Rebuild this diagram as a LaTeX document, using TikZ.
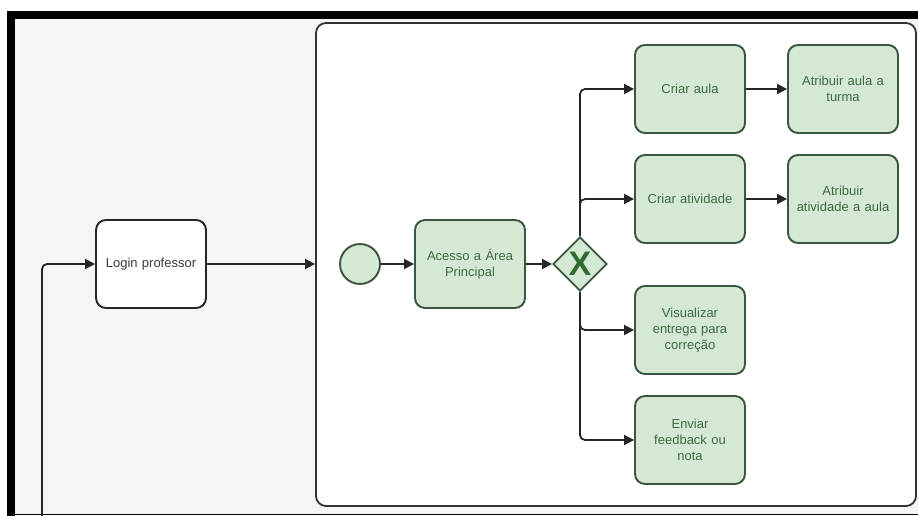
\documentclass[tikz,border=0pt]{standalone}
\usepackage{fontspec}
\setmainfont{Liberation Sans}
\usetikzlibrary{arrows.meta,shapes.geometric}
\definecolor{bggray}{HTML}{F5F5F5}
\definecolor{gfill}{HTML}{D5E8D4}
\definecolor{gline}{HTML}{3A5540}
\definecolor{gtext}{HTML}{3F6A42}
\definecolor{gmark}{HTML}{2F6B2F}
\definecolor{ltext}{HTML}{3A3A3A}
\begin{document}
\begin{tikzpicture}[x=1pt,y=1pt]
\tikzstyle{every node}+=[inner sep=0pt, font=\fontsize{13}{16}\selectfont]
\tikzstyle{task}=[draw=black!85, line width=1.9pt, rounded corners=10pt, minimum width=110pt, minimum height=88pt, text width=104pt, align=center]
\tikzstyle{gtask}=[task, fill=gfill, draw=gline, text=gtext]
\tikzstyle{flow}=[black!85, line width=1.8pt, rounded corners=5pt, -{Triangle[length=10pt,width=10pt]}]
\useasboundingbox (0,0) rectangle (918,-516);
\fill [white] (0,0) rectangle (918,-516);
\fill [bggray] (11,-15) rectangle (918,-514);
\draw [black, line width=8pt] (11,-516) -- (11,-15) -- (918,-15);
\draw [black, line width=1pt] (11,-514) -- (918,-514);
% pool
\node [draw=black!80, fill=white, line width=1.8pt, rounded corners=10pt, minimum width=600pt, minimum height=483pt] (pool) at (616,-264.5) {};
\node [task, fill=white, text=ltext] (lp) at (151,-264) {Login professor};
\node [circle, fill=gfill, draw=gline, line width=1.9pt, minimum size=40pt] (st) at (360,-264) {};
\node [gtask] (ac) at (470,-264) {Acesso a Área\\Principal};
\node [diamond, fill=gfill, draw=gline, line width=1.9pt, minimum width=54pt, minimum height=54pt] (gw) at (580,-264) {};
\node [text=gmark, font=\fontsize{34}{34}\selectfont\bfseries] (gwx) at (gw) {X};
\node [gtask] (ca) at (690,-89) {Criar aula};
\node [gtask] (aa) at (843,-89) {Atribuir aula a\\turma};
\node [gtask] (cv) at (690,-199) {Criar atividade};
\node [gtask] (av) at (843,-199) {Atribuir\\atividade a aula};
\node [gtask] (ve) at (690,-330) {Visualizar\\entrega para\\correção};
\node [gtask] (ef) at (690,-440) {Enviar\\feedback ou\\nota};
\coordinate (lb) at (42,-516);
% flows
\draw [flow] (lb) |- (lp);
\draw [flow] (lp) -- (pool.west |- lp);
\draw [flow] (st) -- (ac);
\draw [flow] (ac) -- (gw);
\draw [flow] (gw.north) |- (ca);
\draw [flow] (gw.north) |- (cv);
\draw [flow] (gw.south) |- (ve);
\draw [flow] (gw.south) |- (ef);
\draw [flow] (ca) -- (aa);
\draw [flow] (cv) -- (av);
\end{tikzpicture}
\end{document}
